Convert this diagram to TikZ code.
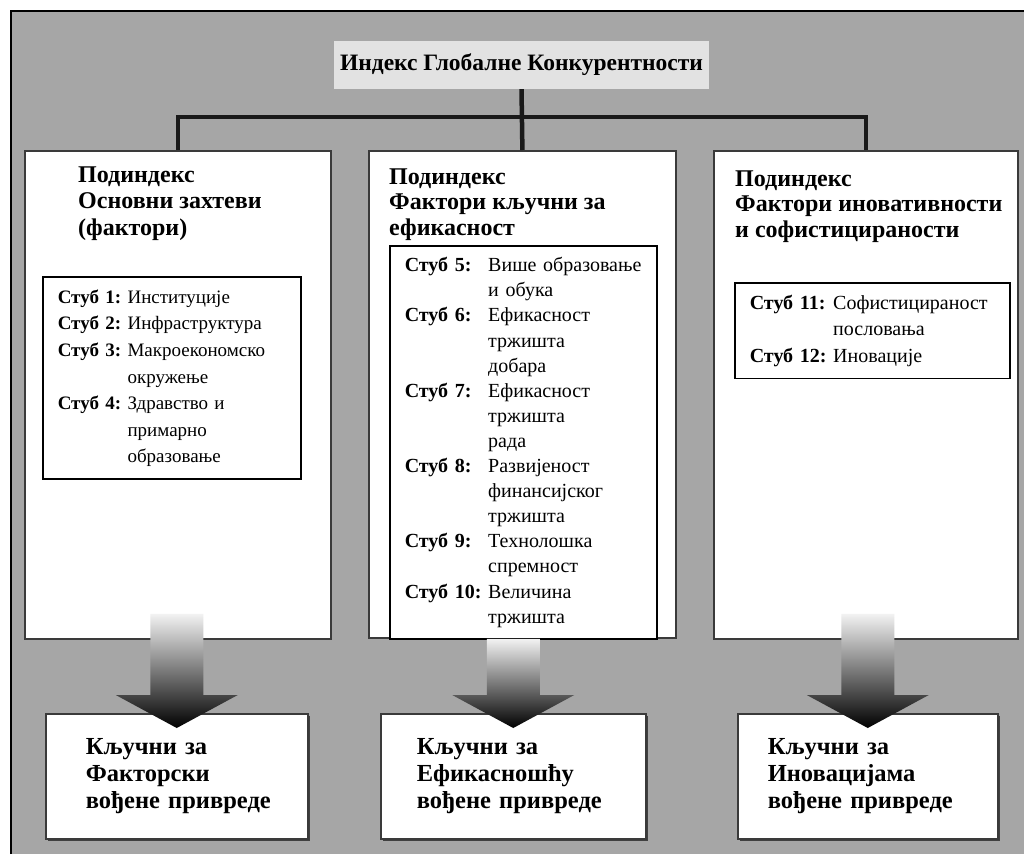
\documentclass[tikz,border=0pt]{standalone}
\usepackage{fontspec}
\setmainfont{Liberation Serif}
\usetikzlibrary{positioning,calc,shadows}
\definecolor{panelgray}{HTML}{A6A6A6}
\definecolor{titlegray}{HTML}{E2E2E2}
\definecolor{edgegray}{HTML}{3A3A3A}

\begin{document}
\begin{tikzpicture}[x=1pt,y=-1pt,
    titlebox/.style={fill=titlegray, inner sep=0pt, minimum width=375pt, minimum height=48pt,
      font={\bfseries\fontsize{23.5}{26}\selectfont}},
    colbox/.style={draw=edgegray, line width=1.8pt, fill=white, anchor=north west, inner sep=0pt},
    headtext/.style={anchor=north west, inner sep=0pt, font={\bfseries\fontsize{24}{25.5}\selectfont}},
    pillbox/.style={draw=black, line width=1.5pt, fill=white, anchor=north west,
      inner xsep=15pt, inner ysep=8pt, align=left, font={\fontsize{20}{26.6}\selectfont}},
    keybox/.style={draw=edgegray, line width=1.5pt, fill=white, anchor=north west, inner ysep=0pt,
      minimum height=125pt, align=left, font={\bfseries\fontsize{24.5}{27}\selectfont},
      drop shadow={shadow xshift=2.5pt, shadow yshift=-2.5pt, fill=black!75, opacity=1}},
    linkbar/.style={line width=4.5pt, black!90},
    bigarrow/.style={top color=black!5, middle color=black!85, bottom color=black}]
  \useasboundingbox (0,0) rectangle (1024,854);
  \fill[panelgray] (11,11) rectangle (1024,854);
  \draw[line width=2.5pt] (11,854) -- (11,11) -- (1024,11);

  % index and the three subindex columns
  \node[titlebox] (title) at (521.5,65) {Индекс Глобалне Конкурентности};
  \node[colbox, minimum width=306pt, minimum height=488pt] (colA) at (24,150) {};
  \node[colbox, minimum width=307pt, minimum height=487pt] (colB) at (368,150) {};
  \node[colbox, minimum width=304pt, minimum height=488pt] (colC) at (713,150) {};

  \coordinate (bar) at (0,117);
  \draw[linkbar] (title.south) -- (colB.north);
  \draw[linkbar] (colA.north) |- (colC.north |- bar) -- (colC.north);

  \node[headtext, font={\bfseries\fontsize{24}{26.5}\selectfont}] (headA) at (78,163.5)
    {\begin{tabular}{@{}l@{}}Подиндекс\\Основни захтеви\\(фактори)\end{tabular}};
  \node[headtext] (headB) at (389,166)
    {\begin{tabular}{@{}l@{}}Подиндекс\\Фактори кључни за\\ефикасност\end{tabular}};
  \node[headtext] (headC) at (735,168)
    {\begin{tabular}{@{}l@{}}Подиндекс\\Фактори иновативности\\и софистицираности\end{tabular}};

  % pillars
  \node[pillbox, text width=228pt, font={\fontsize{19}{26.6}\selectfont}] (pillA) at (42,276)
    {\begin{tabular}{@{}l@{\ }l@{}}
      \textbf{Стуб 1:} & Институције\\
      \textbf{Стуб 2:} & Инфраструктура\\
      \textbf{Стуб 3:} & Макроекономско\\
                       & окружење\\
      \textbf{Стуб 4:} & Здравство и\\
                       & примарно\\
                       & образовање
    \end{tabular}};
  \node[pillbox, text width=237pt, inner ysep=8.4pt, font={\fontsize{20}{25.1}\selectfont}] (pillB) at (389,245)
    {\begin{tabular}{@{}l@{\ }l@{}}
      \textbf{Стуб 5:} & Више образовање\\
                       & и обука\\
      \textbf{Стуб 6:} & Ефикасност\\
                       & тржишта\\
                       & добара\\
      \textbf{Стуб 7:} & Ефикасност\\
                       & тржишта\\
                       & рада\\
      \textbf{Стуб 8:} & Развијеност\\
                       & финансијског\\
                       & тржишта\\
      \textbf{Стуб 9:} & Технолошка\\
                       & спремност\\
      \textbf{Стуб 10:} & Величина\\
                        & тржишта
    \end{tabular}};
  \node[pillbox, text width=245pt] (pillC) at (734,282)
    {\begin{tabular}{@{}l@{\ }l@{}}
      \textbf{Стуб 11:} & Софистицираност\\
                        & пословања\\
      \textbf{Стуб 12:} & Иновације
    \end{tabular}};

  % economies driven by each group
  \node[keybox, inner xsep=40pt, text width=182pt] (keyA) at (45,713)
    {\begin{tabular}{@{}l@{}}Кључни за\\Факторски\\вођене привреде\end{tabular}};
  \node[keybox, inner xsep=36pt, text width=193pt] (keyB) at (380,713)
    {\begin{tabular}{@{}l@{}}Кључни за\\Ефикасношћу\\вођене привреде\end{tabular}};
  \node[keybox, inner xsep=30pt, text width=200pt] (keyC) at (737,713)
    {\begin{tabular}{@{}l@{}}Кључни за\\Иновацијама\\вођене привреде\end{tabular}};

  \foreach \k/\lift in {A/26,B/0,C/26}
  {
    \coordinate (tip\k) at ($(key\k.north)+(0,15)$);
    \coordinate (top\k) at ($(col\k.south -| tip\k)+(0,-\lift)$);
    \shade[bigarrow] (tip\k) -- ++(-61,-33) -- ++(34.5,0) -- ($(top\k)+(-26.5,0)$)
      -- ++(53,0) -- ($(tip\k)+(26.5,-33)$) -- ++(34.5,0) -- cycle;
  }
\end{tikzpicture}
\end{document}
